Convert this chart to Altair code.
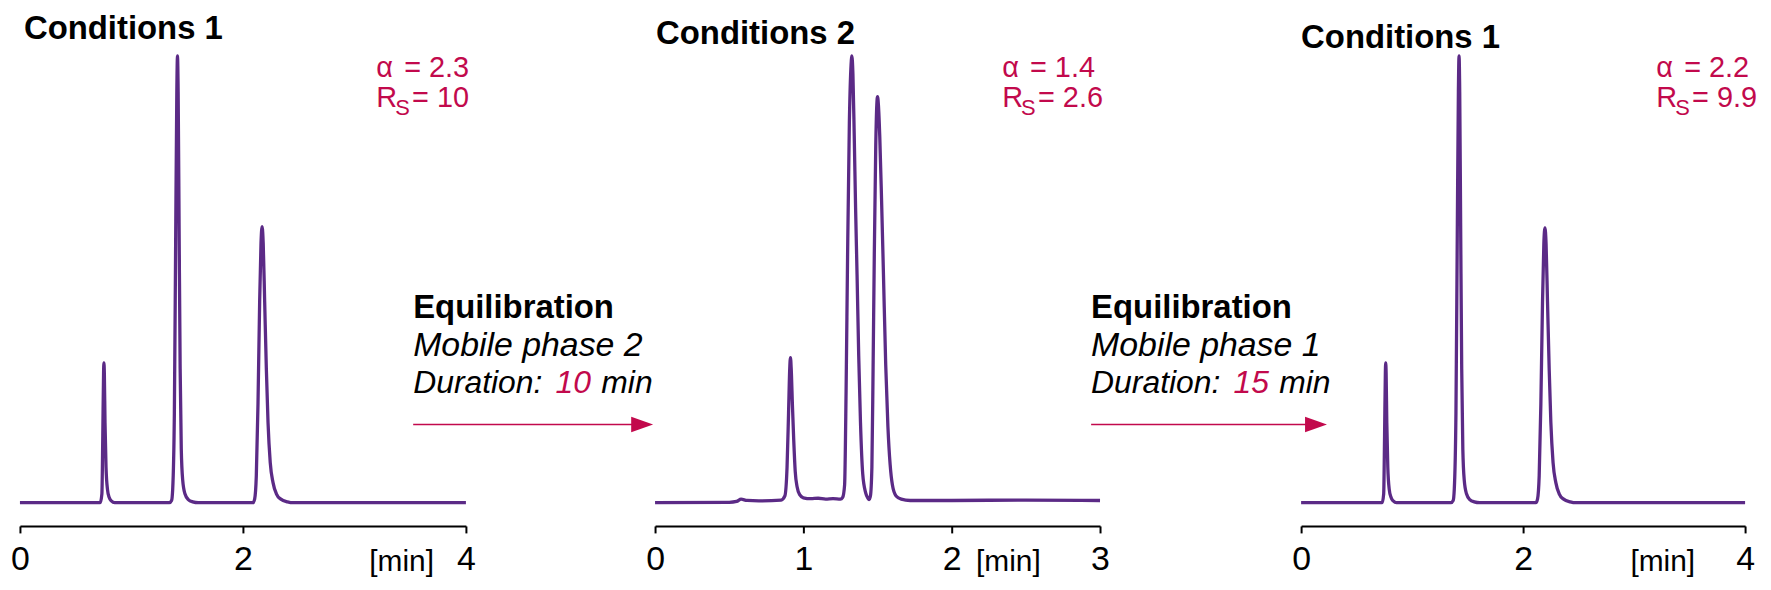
import altair as alt
import pandas as pd

PURPLE = "#5B2A86"
CRIMSON = "#C2094C"
FONT = "Liberation Sans"

# ---- chromatogram traces (time [min], signal normalised so tallest peak = 100) ----
t1 = [0.0, 0.72, 0.735, 0.743, 0.75, 0.753, 0.757, 0.763, 0.772, 0.785, 0.80, 0.82, 0.85,
      1.34, 1.36, 1.37, 1.385, 1.397, 1.407, 1.413, 1.419, 1.428, 1.437, 1.447, 1.46, 1.48, 1.51, 1.55, 1.60,
      2.09, 2.105, 2.12, 2.135, 2.15, 2.162, 2.172, 2.182, 2.195, 2.21, 2.225, 2.245, 2.27, 2.30, 2.34, 2.40, 2.45, 4.0]
s1 = [0, 0, 2, 15, 29, 31.3, 29, 18, 8, 3, 1.2, 0.4, 0,
      0, 0.5, 3, 20, 60, 92, 100, 92, 60, 30, 12, 5, 2, 0.7, 0.2, 0,
      0, 0.8, 6, 22, 45, 58, 61.8, 58, 45, 30, 18, 9, 4.5, 2, 0.8, 0.2, 0, 0]

t2 = [0.0, 0.5, 0.55, 0.58, 0.62, 0.7, 0.85, 0.875, 0.89, 0.90, 0.908, 0.913, 0.918, 0.926, 0.935, 0.945, 0.958, 0.975, 1.0, 1.05, 1.1, 1.15, 1.2, 1.25,
      1.265, 1.278, 1.288, 1.298, 1.31, 1.32, 1.327, 1.334, 1.343, 1.352, 1.362, 1.373, 1.385, 1.40, 1.42, 1.435, 1.443,
      1.452, 1.462, 1.47, 1.478, 1.488, 1.495, 1.50, 1.506, 1.515, 1.527, 1.54, 1.555, 1.57, 1.585, 1.60, 1.625, 1.66, 1.72, 2.0, 2.5, 3.0]
s2 = [0, 0.1, 0.3, 0.8, 0.5, 0.4, 0.6, 1.5, 8, 20, 30, 32.5, 30, 22, 14, 7, 3.5, 1.8, 1.1, 0.9, 1.0, 0.8, 0.9, 0.8,
      1.2, 4, 25, 55, 85, 97, 100, 96, 82, 66, 51, 33, 18, 6.5, 2.2, 1.0, 0.7,
      1.5, 8, 30, 55, 80, 89, 90.9, 89, 82, 68, 51, 31, 17, 8.5, 4, 1.5, 0.8, 0.5, 0.5, 0.6, 0.5]

t3 = [0.0, 0.73, 0.744, 0.752, 0.759, 0.762, 0.766, 0.772, 0.781, 0.794, 0.81, 0.83, 0.86,
      1.35, 1.37, 1.38, 1.395, 1.407, 1.417, 1.423, 1.429, 1.438, 1.447, 1.457, 1.47, 1.49, 1.52, 1.56, 1.61,
      2.115, 2.13, 2.145, 2.16, 2.175, 2.187, 2.197, 2.207, 2.22, 2.235, 2.25, 2.27, 2.295, 2.325, 2.365, 2.425, 2.475, 4.0]
s3 = [0, 0, 2, 15, 29, 31.3, 29, 18, 8, 3, 1.2, 0.4, 0,
      0, 0.5, 3, 20, 60, 92, 100, 92, 60, 30, 12, 5, 2, 0.7, 0.2, 0,
      0, 0.8, 6, 22, 45, 58, 61.5, 58, 45, 30, 18, 9, 4.5, 2, 0.8, 0.2, 0, 0]

# ---- texts ----
titles = ["Conditions 1", "Conditions 2", "Conditions 1"]
alphas = ["2.3", "1.4", "2.2"]
resolutions = ["10", "2.6", "9.9"]
x_max = [4, 3, 4]
tick_values = [[0, 2, 4], [0, 1, 2, 3], [0, 2, 4]]
unit_label = "[min]"
phases = ["Mobile phase 2", "Mobile phase 1"]
durations = ["10", "15"]

# annotation anchors in data units of each panel
title_pos = [(0.036, 103.9), (0.007, 102.6), (0.0, 101.7)]
stat_x = [3.196, 2.34, 3.20]
unit_x = [3.714, 2.60, 3.55]
eq_x = [3.527, 2.94]
arrow_end = [5.679, 4.53]
panel_w = [448, 459, 446]     # panel box widths
axis_w = [448, 447, 446]      # axis (scale range) widths

Y_DOMAIN = [-5.2, 110]
HEIGHT = 517


def one(**kw):
    return pd.DataFrame({k: [v] for k, v in kw.items()})


def panel(i, t, s):
    xs = alt.Scale(domain=[0, x_max[i]], range=[0, axis_w[i]], nice=False, zero=False)
    ys = alt.Scale(domain=Y_DOMAIN, nice=False, zero=False)
    ax = alt.Axis(values=tick_values[i], title=None, format="d")

    def X(f):
        return alt.X(f, type="quantitative", scale=xs, axis=ax)

    def Y(f):
        return alt.Y(f, type="quantitative", scale=ys, axis=None)

    def txt(x, y, text, **kw):
        style = dict(font=FONT, align="left", baseline="alphabetic", color="black")
        style.update(kw)
        return alt.Chart(one(x=x, y=y, label=text)).mark_text(**style).encode(
            x=X("x"), y=Y("y"), text="label:N")

    line = alt.Chart(pd.DataFrame({"t": t, "s": s})).mark_line(
        interpolate="monotone", color=PURPLE, strokeWidth=3.3, strokeJoin="round"
    ).encode(x=X("t"), y=Y("s"))

    layers = [line,
              txt(title_pos[i][0], title_pos[i][1], titles[i], fontSize=33, fontWeight="bold"),
              txt(stat_x[i], 95.3, "\u03b1", fontSize=29, color=CRIMSON),
              txt(stat_x[i], 95.3, "= " + alphas[i], fontSize=29, color=CRIMSON, dx=28),
              txt(stat_x[i], 88.6, "R", fontSize=29, color=CRIMSON),
              txt(stat_x[i], 88.6, "S", fontSize=22, color=CRIMSON, dx=19, dy=8),
              txt(stat_x[i], 88.6, "= " + resolutions[i], fontSize=29, color=CRIMSON, dx=36),
              txt(unit_x[i], -15.2, unit_label, fontSize=30, align="right"),
              ]
    if i < 2:
        ex = eq_x[i]
        layers += [
            txt(ex, 41.4, "Equilibration", fontSize=33, fontWeight="bold"),
            txt(ex, 32.9, phases[i], fontSize=34, fontStyle="italic"),
            txt(ex, 24.6, "Duration: ", fontSize=32, fontStyle="italic"),
            txt(ex, 24.6, durations[i], fontSize=32, fontStyle="italic", color=CRIMSON, dx=143),
            txt(ex, 24.6, "min", fontSize=32, fontStyle="italic", dx=189),
            alt.Chart(one(x1=ex, x2=arrow_end[i] - 0.05, y=17.5)).mark_rule(
                color=CRIMSON, strokeWidth=1.6).encode(x=X("x1"), x2="x2:Q", y=Y("y")),
            alt.Chart(one(x=arrow_end[i], y=17.5)).mark_point(
                shape="M-2,-0.7L0,0L-2,0.7Z", size=484, filled=True, color=CRIMSON,
                opacity=1, strokeWidth=0).encode(x=X("x"), y=Y("y")),
        ]
    return alt.layer(*layers).properties(width=panel_w[i], height=HEIGHT)


p1 = panel(0, t1, s1)
p2 = panel(1, t2, s2)
p3 = panel(2, t3, s3)

chart = alt.hconcat(p1, p2, p3, spacing=190, bounds="flush").properties(
    padding={"left": 2, "top": 2, "right": 5, "bottom": 5}
).configure_view(strokeWidth=0).configure_axis(
    domainColor="black", domainWidth=2, tickColor="black", tickWidth=2, tickSize=7,
    labelFontSize=34, labelFont=FONT, labelColor="black", labelPadding=10,
    grid=False, labelFlush=False, labelBound=False, labelOverlap=False,
)

chart.save("out.html", embed_options={"renderer": "svg", "actions": False})
